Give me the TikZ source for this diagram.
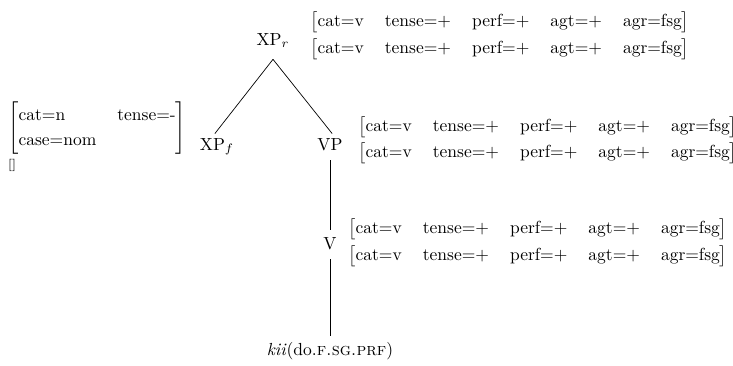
\documentclass[tikz,border=0pt]{standalone}
\newcommand{\featrow}{$\left[\begin{tabular}{@{}lllll@{}}cat=v & tense=+ & perf=+ & agt=+ & agr=fsg\end{tabular}\right]$}
\begin{document}
\begin{tikzpicture}[x=0.5714pt,y=-0.5714pt,
  treenode/.style={inner xsep=0pt,inner ysep=3.75pt,text height=7pt,text depth=2pt,anchor=base},
  avm/.style={inner sep=0pt,anchor=west},
  branch/.style={line width=0.4pt}]
\useasboundingbox (0,0) rectangle (733,366);
% tree nodes
\node[treenode,inner ysep=6pt] (XPr) at (273,45) {XP$_r$};
\node[treenode] (XPf) at (217,150) {XP$_f$};
\node[treenode] (VP) at (330,150) {VP};
\node[treenode] (V) at (330,249) {V};
\node[treenode] (kii) at (330,355) {\textit{kii}(do.\textsc{f.sg.prf})};
% feature structures
\node[avm] (fr1) at (310,22) {\featrow};
\node[avm] (fr2) at (310,49) {\featrow};
\node[avm] (fvp1) at (358,127) {\featrow};
\node[avm] (fvp2) at (358,153) {\featrow};
\node[avm] (fv1) at (348,229) {\featrow};
\node[avm] (fv2) at (348,256) {\featrow};
\node[avm] (fl) at (8,128) {\renewcommand{\arraystretch}{1.2}$\left[\begin{tabular}{@{}ll@{}}cat=n & tense=-\\ case=nom & \end{tabular}\right]$};
\node[inner sep=0pt] (fe) at (12,165) {\fontsize{7}{8}\selectfont[]};
% branches
\draw[branch,shorten >=-2pt] (XPr.south) -- (XPf.north);
\draw[branch,shorten >=-2pt] (XPr.south) -- (VP.north);
\draw[branch] (VP.south) -- (V.north);
\draw[branch] (V.south) -- (kii.north);
\end{tikzpicture}
\end{document}
